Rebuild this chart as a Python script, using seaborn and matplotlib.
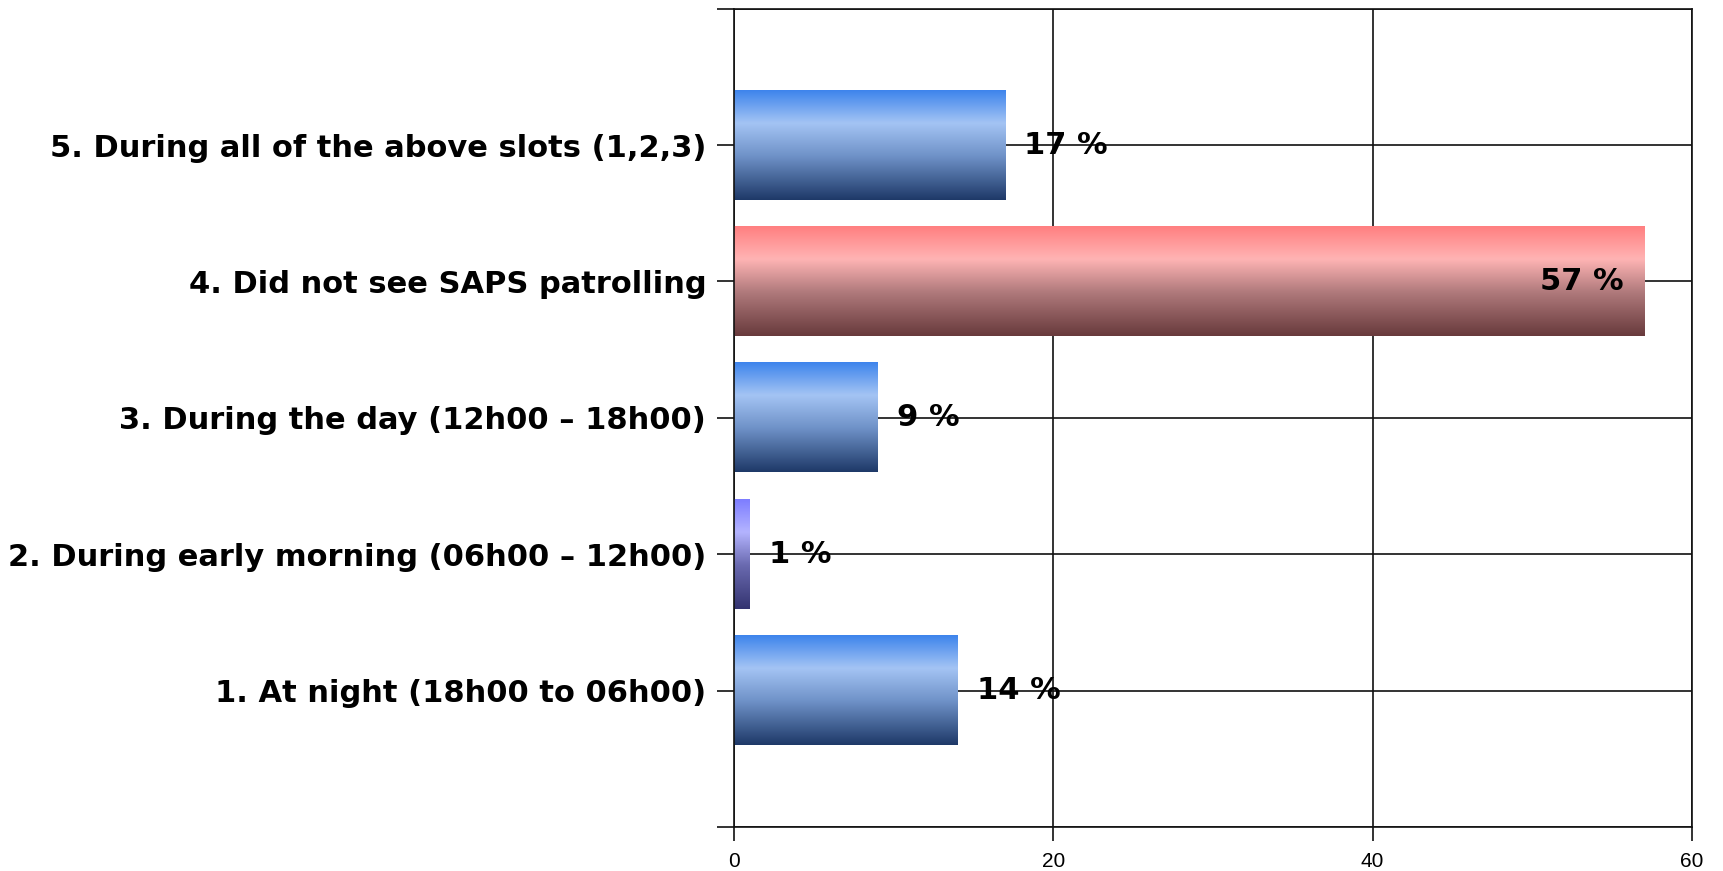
import numpy as np
import pandas as pd
import matplotlib
matplotlib.use('Agg')
import matplotlib.pyplot as plt
from matplotlib.colors import LinearSegmentedColormap
import seaborn as sns

# chart data
labels = [
    "5. During all of the above slots (1,2,3)",
    "4. Did not see SAPS patrolling",
    "3. During the day (12h00 \u2013 18h00)",
    "2. During early morning (06h00 \u2013 12h00)",
    "1. At night (18h00 to 06h00)",
]
values = [17, 57, 9, 1, 14]
bar_kind = ["blue", "red", "blue", "purple", "blue"]
x_ticks = [0, 20, 40, 60]

# gradient stops top -> bottom
gradients = {
    "blue": ["#3d84ec", "#a4c4f4", "#6f92c8", "#1e3968"],
    "red": ["#ff7f80", "#ffb4b4", "#b07a7c", "#683a3c"],
    "purple": ["#7d7dff", "#b4b4ff", "#6a6ab0", "#343470"],
}

data = pd.DataFrame({"label": labels, "value": values})

sns.set_style("white")
plt.rcParams['font.family'] = ['DejaVu Sans']
plt.rcParams['text.color'] = 'black'
plt.rcParams['xtick.color'] = 'black'
plt.rcParams['ytick.color'] = 'black'

fig = plt.figure(figsize=(17.23, 8.71), dpi=100)
ax = fig.add_axes([0.426, 0.0505, 0.556, 0.9395])

sns.barplot(data=data, x="value", y="label", orient="h", width=0.8,
            color="white", ax=ax, zorder=2)

# replace flat bars with vertical gradients
for patch, kind in zip(ax.patches, bar_kind):
    x0, y0 = patch.get_x(), patch.get_y()
    w, h = patch.get_width(), patch.get_height()
    cmap = LinearSegmentedColormap.from_list(
        kind, list(zip([0, 0.3, 0.6, 1.0], gradients[kind])))
    grad = np.linspace(0, 1, 256).reshape(-1, 1)
    ax.imshow(grad, cmap=cmap, aspect="auto", extent=[x0, x0 + w, y0 + h, y0],
              origin="upper", zorder=2, interpolation="bicubic")
    patch.set_visible(False)

ax.set_xlim(0, 60)
ax.set_ylim(5, -1)

# value labels
for i, v in enumerate(values):
    if v > 50:
        ax.annotate(f"{v} %", xy=(v, i), xytext=(-20, 0), textcoords="offset pixels",
                    ha="right", va="center", fontsize=22, fontweight="bold", zorder=5)
    else:
        ax.annotate(f"{v} %", xy=(v, i), xytext=(19, 0), textcoords="offset pixels",
                    ha="left", va="center", fontsize=22, fontweight="bold", zorder=5)

ax.set_yticks(range(-1, 6))
ax.set_yticklabels([""] + labels + [""], fontsize=22, fontweight="bold")
ax.set_xticks(x_ticks)
ax.set_xticklabels([str(t) for t in x_ticks], fontsize=15,
                   family=["Liberation Sans Narrow", "Liberation Sans"])

ax.grid(True, color="#111111", linewidth=1.2)
ax.set_axisbelow(True)
ax.tick_params(axis="y", left=True, length=12, width=1.2, color="#111111", pad=8)
ax.tick_params(axis="x", bottom=True, length=10, width=1.2, color="#111111", pad=8)
for s in ax.spines.values():
    s.set_color("#111111")
    s.set_linewidth(1.2)
ax.set_xlabel("")
ax.set_ylabel("")

fig.savefig("out.png", dpi=100)
